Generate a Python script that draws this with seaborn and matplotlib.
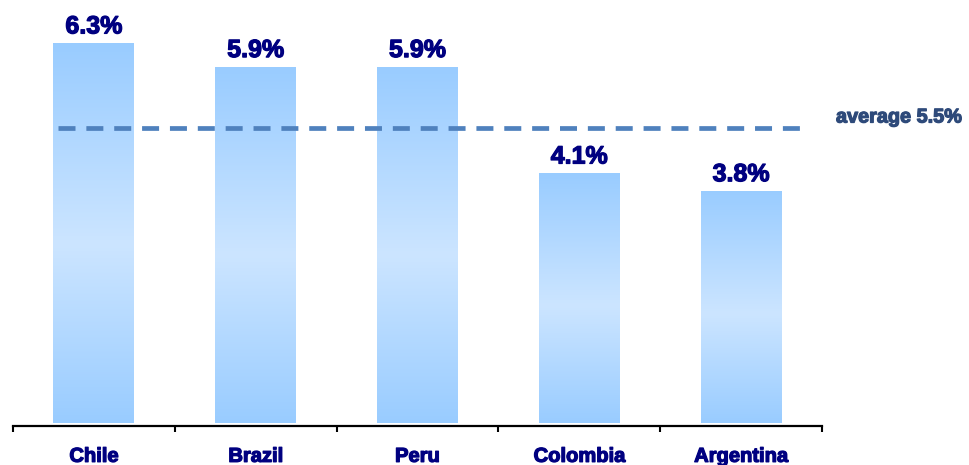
import numpy as np
import pandas as pd
import matplotlib
matplotlib.use('Agg')
import matplotlib.pyplot as plt
import matplotlib.patheffects as pe
from matplotlib.colors import LinearSegmentedColormap
import seaborn as sns

countries = ['Chile', 'Brazil', 'Peru', 'Colombia', 'Argentina']
growth = [6.3, 5.9, 5.9, 4.1, 3.8]
avg_label = 'average 5.5%'
avg_level = 4.87  # where the dashed line sits in the picture

df = pd.DataFrame({'country': countries, 'growth': growth})

sns.set_theme(style='white')
plt.rcParams['font.family'] = ['Liberation Sans', 'DejaVu Sans']

fig = plt.figure(figsize=(9.69, 4.65), dpi=100)
ax = fig.add_axes([13 / 969, 1 - 426 / 465, (822 - 13) / 969, 426 / 465])

sns.barplot(data=df, x='country', y='growth', width=0.5, color='#99CCFF',
            ax=ax, saturation=1)

ymin, ymax = -0.176, 7.03
floor = -0.125
grad = LinearSegmentedColormap.from_list(
    'bar', [(0, '#99CCFF'), (0.47, '#CCE5FF'), (1, '#99CCFF')])
col = np.linspace(0, 1, 256).reshape(-1, 1)
for p in ax.patches:
    top = p.get_y() + p.get_height()
    p.set_y(floor)
    p.set_height(top - floor)
    p.set_facecolor('none')
    p.set_edgecolor('none')
    x0 = p.get_x()
    im = ax.imshow(col, cmap=grad, origin='lower', aspect='auto',
                   extent=[x0, x0 + p.get_width(), floor, top], zorder=1)
    im.set_clip_path(p)

heavy = lambda c: [pe.withStroke(linewidth=0.9, foreground=c)]

for i, v in enumerate(growth):
    ax.annotate(f'{v}%', (i, v), xytext=(0, 7), textcoords='offset points',
                ha='center', va='baseline', fontsize=18, fontweight='bold',
                color='#000080', path_effects=heavy('#000080'))

ax.plot([-0.22, 4.37], [avg_level, avg_level], color='#4F81BD', lw=3.4,
        dashes=(3.6, 2.3), solid_capstyle='butt', zorder=3)
fig.text(836 / 969, 1 - 117 / 465, avg_label, ha='left', va='center',
         fontsize=14.3, fontweight='bold', color='#2E4A7A',
         path_effects=heavy('#2E4A7A'))

ax.set_xlim(-0.5, 4.5)
ax.set_ylim(ymin, ymax)
ax.set_xlabel('')
ax.set_ylabel('')
ax.set_yticks([])
ax.set_xticks(range(len(countries)))
ax.set_xticklabels(countries, fontsize=14.5, fontweight='bold', color='#000080')
for t in ax.get_xticklabels():
    t.set_path_effects(heavy('#000080'))
ax.set_xticks(np.arange(-0.5, len(countries)), minor=True)
ax.tick_params(axis='x', which='major', length=0, pad=15)
ax.tick_params(axis='x', which='minor', length=4, width=1.5, color='black',
               direction='out', bottom=True)
for s in ['top', 'right', 'left']:
    ax.spines[s].set_visible(False)
ax.spines['bottom'].set_color('black')
ax.spines['bottom'].set_linewidth(1.6)

fig.savefig('out.png', dpi=100)
